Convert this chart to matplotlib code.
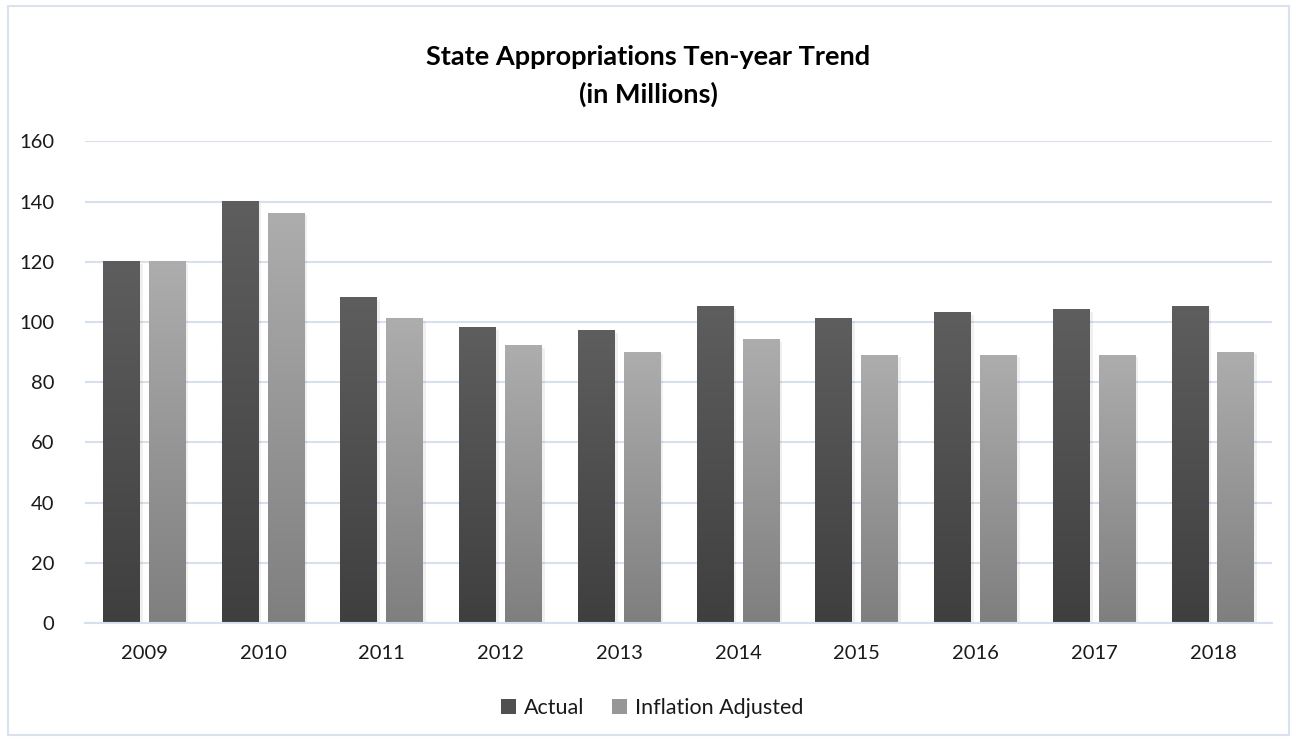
import numpy as np
import matplotlib
matplotlib.use("Agg")
import matplotlib.pyplot as plt
from matplotlib.patches import Rectangle, Patch

# data
years = ['2009', '2010', '2011', '2012', '2013', '2014', '2015', '2016', '2017', '2018']
actual = [120, 140, 108, 98, 97, 105, 101, 103, 104, 105]
inflation_adjusted = [120, 136, 101, 92, 90, 94, 89, 89, 89, 90]

plt.rcParams['font.family'] = ['Lato', 'DejaVu Sans']

fig = plt.figure(figsize=(12.97, 7.40), dpi=100)
ax = fig.add_axes([0.0655, 0.158, 0.9155, 0.651])

grid_col = '#d6e0ee'
bar_w = 0.31
offset = 0.193

def gradient_bar(x, h, top, bottom):
    # vertical gradient: lighter at top, darker at bottom
    c_top = np.array(matplotlib.colors.to_rgb(top))
    c_bot = np.array(matplotlib.colors.to_rgb(bottom))
    t = np.linspace(0, 1, 256)[:, None]
    img = (c_top * (1 - t) + c_bot * t)[:, None, :]
    # soft shadow to the right
    ax.add_patch(Rectangle((x - bar_w / 2 + 0.012, 0), bar_w + 0.012, h - 0.6,
                           facecolor='#000000', alpha=0.06, edgecolor='none', zorder=2))
    ax.imshow(img, extent=[x - bar_w / 2, x + bar_w / 2, 0, h], aspect='auto',
              interpolation='bicubic', zorder=3)

x = np.arange(len(years))
for i in range(len(years)):
    gradient_bar(x[i] - offset, actual[i], '#5e5e5e', '#3f3f3f')
    gradient_bar(x[i] + offset, inflation_adjusted[i], '#adadad', '#7f7f7f')

ax.set_xlim(-0.5, len(years) - 0.5)
ax.set_ylim(0, 160)
ax.set_yticks(range(0, 161, 20))
ax.set_xticks(x)
ax.set_xticklabels(years)
ax.grid(axis='y', color=grid_col, linewidth=1.5, zorder=0)
ax.set_axisbelow(True)
for s in ['top', 'right', 'left']:
    ax.spines[s].set_visible(False)
ax.spines['bottom'].set_color(grid_col)
ax.spines['bottom'].set_linewidth(1.5)
ax.spines['bottom'].set_zorder(4)
ax.tick_params(axis='both', length=0, labelsize=14.5, colors='#1a1a1a')
ax.tick_params(axis='y', pad=22)
ax.tick_params(axis='x', pad=16)

fig.text(0.5, 0.897, 'State Appropriations Ten-year Trend\n(in Millions)',
         ha='center', va='center', fontsize=19.5, fontweight='bold', linespacing=1.6)

handles = [Patch(facecolor='#505050', label='Actual'),
           Patch(facecolor='#979797', label='Inflation Adjusted')]
leg = fig.legend(handles=handles, loc='center', bbox_to_anchor=(0.503, 0.043), ncol=2,
                 frameon=False, fontsize=15.5, handlelength=0.7, handleheight=0.7,
                 handletextpad=0.35, columnspacing=1.3)
for t in leg.get_texts():
    t.set_color('#1a1a1a')

# outer chart border
fig.patches.append(Rectangle((0.006, 0.007), 0.988, 0.985, transform=fig.transFigure,
                             fill=False, edgecolor='#d9e2ee', linewidth=1.5))

fig.savefig('out.png', dpi=100)
